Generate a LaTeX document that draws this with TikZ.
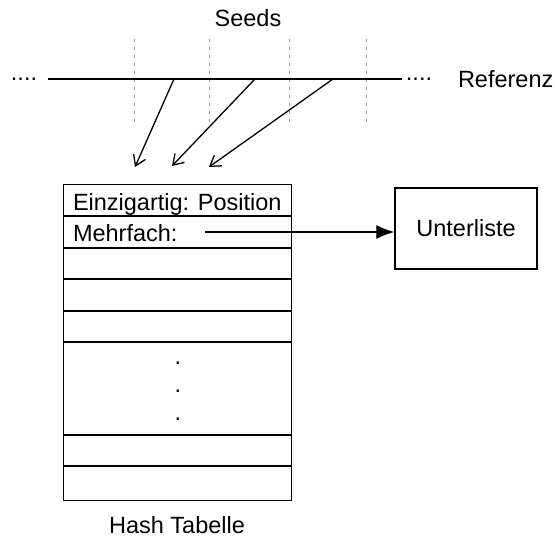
\documentclass[tikz,border=0pt]{standalone}
\usepackage{fontspec}
\setmainfont{Liberation Sans}
\usetikzlibrary{arrows.meta}
\begin{document}
\begin{tikzpicture}[x=1pt,y=-1pt,
  lbl/.style={font=\fontsize{23.5}{28}\selectfont, inner sep=0pt, outer sep=0pt},
  seedmark/.style={draw=black!40, line width=1pt, dash pattern=on 3pt off 5pt},
  refline/.style={draw=black, line width=1.3pt},
  seedarrow/.style={draw=black, line width=1.3pt, -{Straight Barb[length=10pt,width=13pt]}},
  tabline/.style={draw=black, line width=1.4pt},
  listarrow/.style={draw=black, line width=1.3pt, -{Latex[length=18pt,width=14pt]}},
  listbox/.style={draw=black, line width=1.4pt, minimum width=142pt, minimum height=81pt, inner sep=0pt, font=\fontsize{23.5}{28}\selectfont}
]
\useasboundingbox (0,0) rectangle (555,540);

% labels
\node[lbl] (seeds) at (248,18) {Seeds};
\node[lbl, anchor=west] (ref) at (458,79) {Referenz};
\node[lbl, anchor=base] (dotsl) at (24,80.2) {....};
\node[lbl, anchor=base] (dotsr) at (419,80.2) {....};

% seed marks
\foreach \x/\n in {134/a,209/b,289/c,366/d}
  \draw[seedmark] (\x,39) coordinate (m\n top) -- (\x,122) coordinate (m\n bot);

% reference line
\coordinate (rl) at (48,79);
\coordinate (rr) at (402,79);
\draw[refline] (rl) -- (rr);

% seed arrows
\coordinate (s1) at (174,79);
\coordinate (s2) at (255,79);
\coordinate (s3) at (333,79);
\coordinate (e1) at (135,167);
\coordinate (e2) at (172,166);
\coordinate (e3) at (209,167);
\draw[seedarrow] (s1) -- (e1);
\draw[seedarrow] (s2) -- (e2);
\draw[seedarrow] (s3) -- (e3);

% hash table
\node[draw=black, line width=1.4pt, minimum width=228pt, minimum height=316pt, inner sep=0pt, anchor=north west] (tab) at (63,184) {};
\foreach \y in {216,248,279,311,342,435,466}
  \draw[tabline] (tab.west |- 0,\y) -- (tab.east |- 0,\y);
\node[lbl, anchor=base west] (einz) at (73,210.5) {Einzigartig: Position};
\node[lbl, anchor=base west] (mehr) at (73,242) {Mehrfach:};
\node[lbl, anchor=base] (vd1) at (178,364.2) {.};
\node[lbl, anchor=base] (vd2) at (178,392.2) {.};
\node[lbl, anchor=base] (vd3) at (178,420.2) {.};
\node[lbl] (hash) at (177,525.5) {Hash Tabelle};

% sublist
\node[listbox] (unter) at (466,228.5) {Unterliste};
\coordinate (mstart) at (205,232);
\draw[listarrow] (mstart) -- (mstart -| unter.west);
\end{tikzpicture}
\end{document}
